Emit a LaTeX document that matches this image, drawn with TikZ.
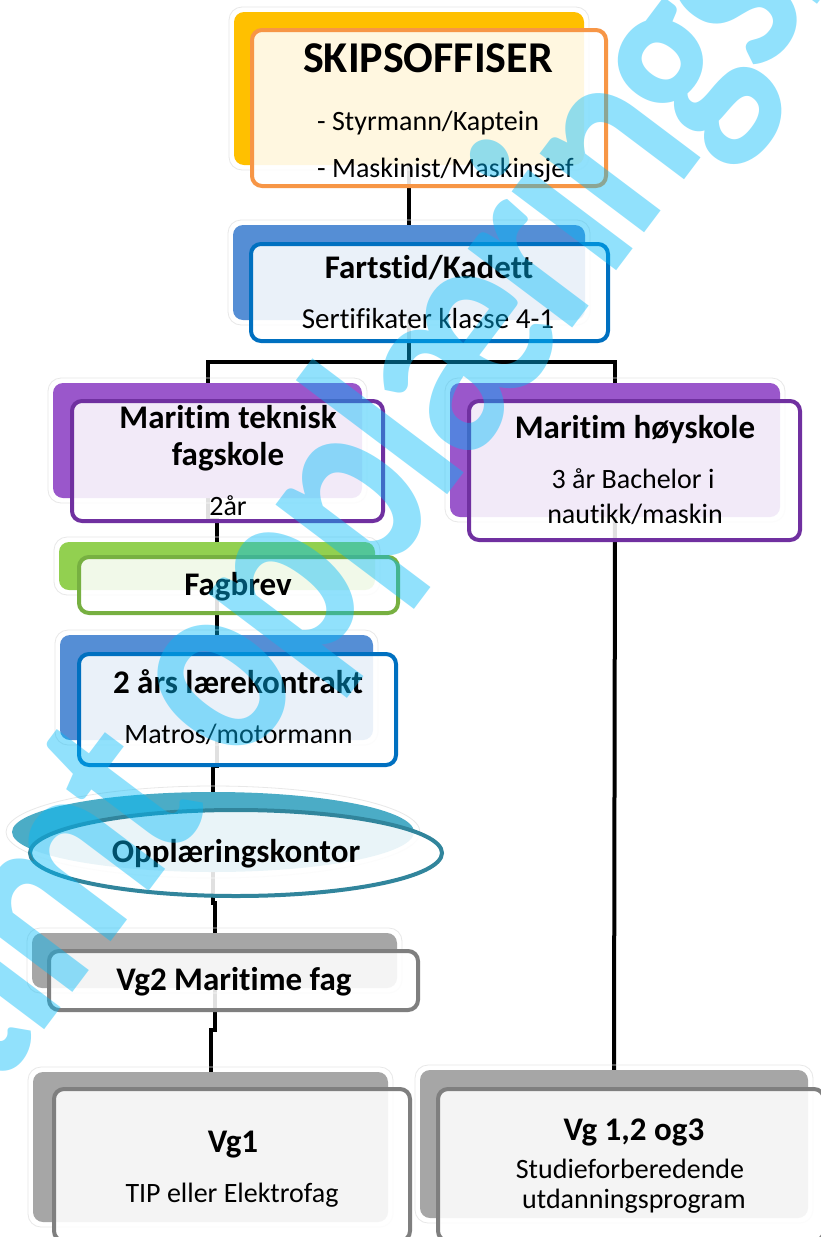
\documentclass[tikz,border=0pt]{standalone}
\usepackage{fontspec}
\setmainfont{Carlito}[RawFeature=-liga]
\newfontfamily\wmfont{Carlito}[RawFeature=-liga, LetterSpace=-3.5]
\usetikzlibrary{calc,shapes.geometric}
\definecolor{cyellow}{HTML}{FFC000}
\definecolor{corange}{HTML}{F79646}
\definecolor{cblue}{HTML}{558ED5}
\definecolor{cblueline}{HTML}{0070C0}
\definecolor{cpurple}{HTML}{9A57CB}
\definecolor{cpurpleline}{HTML}{7030A0}
\definecolor{cgreen}{HTML}{92D050}
\definecolor{cgreenline}{HTML}{77B041}
\definecolor{cteal}{HTML}{4BACC6}
\definecolor{ctealline}{HTML}{31859C}
\definecolor{cgray}{HTML}{A6A6A6}
\definecolor{cgrayline}{HTML}{7F7F7F}
\definecolor{cwater}{HTML}{00BAF9}
\newcommand\glowbox[1]{\draw[glow] ([shift={(-5,-5)}]#1.north west) rectangle ([shift={(5,5)}]#1.south east);}
\begin{document}
\begin{tikzpicture}[x=1pt,y=-1pt,
  conn/.style={line width=4pt, black},
  glow/.style={draw=black!9, line width=0.8pt, rounded corners=13pt},
  backbox/.style={rectangle, rounded corners=10pt, inner sep=0pt, outer sep=0pt},
  frontbox/.style={rectangle, rounded corners=10pt, line width=4pt, fill=white, fill opacity=0.88, inner sep=0pt, outer sep=0pt},
  btxt/.style={font=\bfseries\fontsize{33}{36}\selectfont, inner sep=0pt, anchor=base},
  rtxt/.style={font=\fontsize{28}{32}\selectfont, inner sep=0pt, anchor=base},
  wm/.style={font=\wmfont\bfseries\fontsize{270}{290}\selectfont, text=cwater, text opacity=0.43, inner sep=0pt}
]
\fill[white] (0,0) rectangle (821,1237);
\useasboundingbox (0,0) rectangle (821,1237);

\path
  node[backbox, minimum width=350pt, minimum height=153pt] (b1) at (409,88.5) {}
  node[backbox, minimum width=352pt, minimum height=95pt] (b2) at (409,272.5) {}
  node[backbox, minimum width=309pt, minimum height=115pt] (b3) at (207.5,440.5) {}
  node[backbox, minimum width=316pt, minimum height=48pt] (b4) at (217,566) {}
  node[backbox, minimum width=313pt, minimum height=105pt] (b5) at (216.5,687.5) {}
  node[ellipse, inner sep=0pt, outer sep=0pt, minimum width=402pt, minimum height=80pt] (be) at (213,832) {}
  node[backbox, minimum width=365pt, minimum height=55pt] (b6) at (214.5,960.5) {}
  node[backbox, minimum width=355pt, minimum height=150pt] (b7) at (210.5,1147) {}
  node[backbox, minimum width=388pt, minimum height=148pt] (b8) at (614,1144) {}
  node[backbox, minimum width=330pt, minimum height=134pt] (b9) at (615,450) {};

\coordinate (barL) at (b3.north |- 0,362);
\coordinate (barR) at (b9.north |- 0,362);
\draw[conn] (b1.south) -- (b2.north);
\draw[conn] (b2.south) -- (b2.south |- barL);
\draw[conn] (b3.north) -- (barL) -- (barR) -- (b9.north);
\draw[conn] (b3.south) |- ($(b3.south)!0.5!(b4.north)$) -| (b4.north);
\draw[conn] (b4.south) |- ($(b4.south)!0.5!(b5.north)$) -| (b5.north);
\draw[conn] (b5.south) |- ($(b5.south)!0.5!(be.north)$) -| (be.north);
\draw[conn] (be.south) |- ($(be.south)!0.5!(b6.north)$) -| (b6.north);
\draw[conn] (b6.south) |- ($(b6.south)!0.5!(b7.north)$) -| (b7.north);
\draw[conn] (b9.south) -- (b8.north);

\glowbox{b1}
\fill[cyellow, rounded corners=10pt] (b1.north west) rectangle (b1.south east);
\node[frontbox, draw=corange, minimum width=354pt, minimum height=156pt] (f1) at (429,108) {};
\glowbox{b2}
\fill[cblue, rounded corners=10pt] (b2.north west) rectangle (b2.south east);
\node[frontbox, draw=cblueline, minimum width=357pt, minimum height=97pt] (f2) at (429.5,292.5) {};
\glowbox{b3}
\fill[cpurple, rounded corners=10pt] (b3.north west) rectangle (b3.south east);
\node[frontbox, draw=cpurpleline, minimum width=311pt, minimum height=120pt] (f3) at (227.5,461) {};
\glowbox{b9}
\fill[cpurple, rounded corners=10pt] (b9.north west) rectangle (b9.south east);
\node[frontbox, draw=cpurpleline, minimum width=331pt, minimum height=139pt] (f9) at (634.5,470.5) {};
\glowbox{b4}
\fill[cgreen, rounded corners=10pt] (b4.north west) rectangle (b4.south east);
\node[frontbox, draw=cgreenline, minimum width=319pt, minimum height=56pt] (f4) at (238.5,585) {};
\glowbox{b5}
\fill[cblue, rounded corners=10pt] (b5.north west) rectangle (b5.south east);
\node[frontbox, draw=cblueline, minimum width=317pt, minimum height=111pt] (f5) at (237.5,709.5) {};
\draw[glow, rounded corners=0pt] (be.center) ellipse [x radius=207, y radius=46];
\fill[cteal] (be.center) ellipse [x radius=201, y radius=40];
\node[ellipse, draw=ctealline, line width=4pt, fill=white, fill opacity=0.88, inner sep=0pt, minimum width=412pt, minimum height=86pt] (fe) at (236,853) {};
\glowbox{b6}
\fill[cgray, rounded corners=10pt] (b6.north west) rectangle (b6.south east);
\node[frontbox, draw=cgrayline, minimum width=369pt, minimum height=59pt] (f6) at (233.5,980.5) {};
\glowbox{b7}
\fill[cgray, rounded corners=10pt] (b7.north west) rectangle (b7.south east);
\node[frontbox, draw=cgrayline, minimum width=356pt, minimum height=152pt] (f7) at (232,1165) {};
\glowbox{b8}
\fill[cgray, rounded corners=10pt] (b8.north west) rectangle (b8.south east);
\node[frontbox, draw=cgrayline, minimum width=386pt, minimum height=152pt] (f8) at (631,1165) {};

\node[btxt, font=\bfseries\fontsize{44}{48}\selectfont] (t1a) at (428,72) {SKIPSOFFISER};
\node[rtxt, anchor=base west] (t1b) at (317,130) {- Styrmann/Kaptein};
\node[rtxt, anchor=base west] (t1c) at (317,177) {- Maskinist/Maskinsjef};
\node[btxt] (t2a) at (429,278) {Fartstid/Kadett};
\node[rtxt, font=\fontsize{29}{32}\selectfont] (t2b) at (428,328) {Sertifikater klasse 4-1};
\node[btxt] (t3a) at (228,428) {Maritim teknisk};
\node[btxt] (t3b) at (228,465) {fagskole};
\node[rtxt] (t3c) at (228,515) {2år};
\node[btxt] (t9a) at (635,438) {Maritim høyskole};
\node[rtxt] (t9b) at (633,488) {3 år Bachelor i};
\node[rtxt] (t9c) at (635,523) {nautikk/maskin};
\node[btxt] (t4) at (238,595) {Fagbrev};
\node[btxt] (t5a) at (238,693) {2 års lærekontrakt};
\node[rtxt] (t5b) at (238.5,743) {Matros/motormann};
\node[btxt] (te) at (236,862) {Opplæringskontor};
\node[btxt] (t6) at (234,990) {Vg2 Maritime fag};
\node[btxt] (t7a) at (233,1152) {Vg1};
\node[rtxt] (t7b) at (232,1202) {TIP eller Elektrofag};
\node[btxt] (t8a) at (634,1140) {Vg 1,2 og3};
\node[rtxt] (t8b) at (630,1178) {Studieforberedende};
\node[rtxt] (t8c) at (634,1208) {utdanningsprogram};

\node[wm, rotate=53, xscale=0.82, anchor=base west] (wmk) at (238,772.7) {\llap{Maritimt\ }opplæringskontor};
\end{tikzpicture}
\end{document}
